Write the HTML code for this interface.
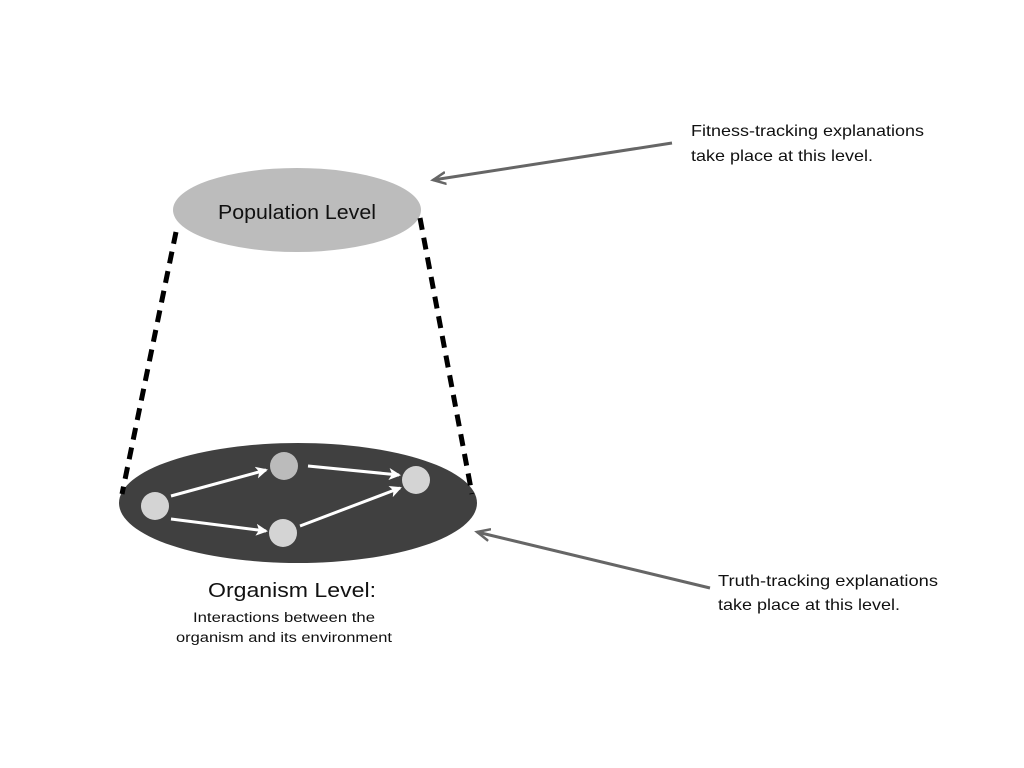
<!DOCTYPE html>
<html><head><style>body{margin:0;background:#fff}svg{display:block}</style></head><body>
<svg width="1024" height="768" xmlns="http://www.w3.org/2000/svg" font-family="'Liberation Sans', sans-serif">
<defs>
<marker id="ah" markerWidth="12" markerHeight="12" refX="10" refY="6" orient="auto" markerUnits="userSpaceOnUse"><path d="M0,0 L12,6 L0,12 L3,6z" fill="#fff"/></marker>
<marker id="ag" markerWidth="16" markerHeight="14" refX="13" refY="7" orient="auto" markerUnits="userSpaceOnUse"><path d="M0,1 L13,7 L0,13" fill="none" stroke="#666" stroke-width="2.5"/></marker>
</defs>
<ellipse cx="297" cy="210" rx="124" ry="42" fill="#bcbcbc"/>
<text x="218" y="219" font-size="20" fill="#111" textLength="158" lengthAdjust="spacingAndGlyphs">Population Level</text>
<ellipse cx="298" cy="503" rx="179" ry="60" fill="#404040"/>
<line x1="176" y1="232" x2="122" y2="494" stroke="#000" stroke-width="5" stroke-dasharray="12,8"/>
<line x1="420" y1="218" x2="472" y2="494" stroke="#000" stroke-width="5" stroke-dasharray="12,8"/>
<g stroke="#fff" stroke-width="3" marker-end="url(#ah)">
<line x1="171" y1="496" x2="266" y2="470"/>
<line x1="171" y1="519" x2="266" y2="531"/>
<line x1="308" y1="466" x2="399" y2="475"/>
<line x1="300" y1="526" x2="400" y2="488"/>
</g>
<circle cx="155" cy="506" r="14" fill="#d4d4d4"/>
<circle cx="284" cy="466" r="14" fill="#bbb"/>
<circle cx="283" cy="533" r="14" fill="#d4d4d4"/>
<circle cx="416" cy="480" r="14" fill="#d4d4d4"/>
<line x1="672" y1="143" x2="433" y2="180" stroke="#666" stroke-width="3" marker-end="url(#ag)"/>
<line x1="710" y1="588" x2="477" y2="532" stroke="#666" stroke-width="3" marker-end="url(#ag)"/>
<text font-size="16" fill="#111" lengthAdjust="spacingAndGlyphs"><tspan x="691" y="136" textLength="233" lengthAdjust="spacingAndGlyphs">Fitness-tracking explanations</tspan></text>
<text font-size="16" fill="#111"><tspan x="691" y="161" textLength="182" lengthAdjust="spacingAndGlyphs">take place at this level.</tspan></text>
<text font-size="16" fill="#111"><tspan x="718" y="586" textLength="220" lengthAdjust="spacingAndGlyphs">Truth-tracking explanations</tspan></text>
<text font-size="16" fill="#111"><tspan x="718" y="610" textLength="182" lengthAdjust="spacingAndGlyphs">take place at this level.</tspan></text>
<text x="208" y="597" font-size="20" fill="#111" textLength="168" lengthAdjust="spacingAndGlyphs">Organism Level:</text>
<text x="193" y="622" font-size="13.5" fill="#111" textLength="182" lengthAdjust="spacingAndGlyphs">Interactions between the</text>
<text x="176" y="642" font-size="13.5" fill="#111" textLength="216" lengthAdjust="spacingAndGlyphs">organism and its environment</text>
</svg>
</body></html>
